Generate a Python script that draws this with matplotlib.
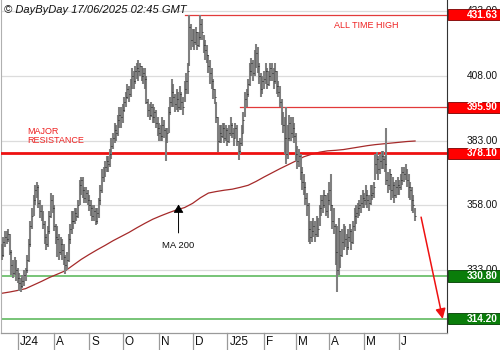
import numpy as np
import pandas as pd
import matplotlib
matplotlib.use("Agg")
import matplotlib.pyplot as plt
import matplotlib.patches as mpatches
import matplotlib.transforms as mtrans

plt.rcParams['font.family'] = ['Liberation Sans', 'DejaVu Sans']

# ---------------- data (daily bars, one row per week) ----------------
start_date = "2024-06-17"

closes = [
    339, 344, 346, 345, 347,
    340, 335, 332, 336, 333,
    330, 328, 327, 329, 331,
    333, 337, 343, 350, 354,
    360, 364, 365, 359, 356,
    355, 351, 346, 343, 348,
    354, 360, 357, 350, 346,
    345, 340, 343, 341, 338,
    335, 337, 345, 349, 352,
    352, 355, 354, 358, 366,
    368, 364, 361, 363, 360,
    358, 357, 354, 356, 352,
    355, 360, 364, 369, 371,
    373, 375, 374, 378, 381,
    384, 387, 386, 391, 393,
    392, 395, 398, 400, 403,
    401, 405, 408, 406, 410,
    411, 410, 412, 408, 409,
    407, 398, 395, 393, 396,
    392, 394, 390, 388, 386,
    385, 389, 387, 384, 386,
    394, 398, 402, 400, 397,
    399, 396, 401, 398, 396,
    403, 406, 410, 427, 422,
    424, 421, 425, 420, 423,
    428, 425, 420, 418, 416,
    412, 409, 406, 403, 400,
    392, 383, 386, 385, 388,
    384, 387, 383, 386, 389,
    386, 384, 388, 383, 379,
    382, 386, 391, 399, 401,
    405, 410, 413, 409, 415,
    417, 412, 408, 403, 406,
    407, 410, 405, 408, 411,
    409, 406, 410, 404, 402,
    398, 392, 389, 384, 378,
    384, 390, 386, 388, 385,
    378, 375, 377, 371, 367,
    365, 361, 358, 349, 346,
    348, 350, 347, 352, 349,
    357, 360, 358, 362, 356,
    360, 364, 358, 352, 350,
    340, 333, 348, 339, 344,
    347, 345, 342, 346, 348,
    344, 350, 354, 355, 357,
    358, 359, 361, 360, 362,
    360, 359, 362, 363, 365,
    374, 376, 372, 375, 377,
    376, 374, 368, 366, 370,
    364, 366, 362, 365, 366,
    365, 368, 371, 370, 372,
    368, 365, 364, 360, 358,
    354,
]

highs = [
    343, 346, 348, 348, 349,
    347, 341, 337, 338, 337,
    334, 332, 330, 331, 333,
    334, 339, 345, 352, 357,
    362, 366, 367, 366, 360,
    358, 356, 352, 347, 350,
    356, 363, 362, 358, 351,
    350, 347, 346, 345, 343,
    339, 340, 347, 351, 356,
    356, 357, 357, 360, 368,
    369, 369, 365, 365, 364,
    362, 360, 358, 358, 357,
    357, 361, 366, 372, 373,
    375, 377, 377, 380, 384,
    386, 390, 389, 393, 396,
    396, 397, 400, 402, 405,
    404, 407, 411, 410, 412,
    413, 414, 413, 412, 411,
    411, 408, 399, 397, 398,
    397, 396, 395, 392, 390,
    389, 392, 391, 388, 388,
    396, 400, 407, 405, 401,
    403, 402, 404, 402, 400,
    406, 409, 413, 431.63, 428,
    426, 426, 427, 425, 425,
    431.5, 430, 424, 422, 420,
    416, 414, 411, 407, 403,
    398, 392, 389, 389, 390,
    390, 389, 388, 389, 392,
    390, 388, 390, 389, 383,
    384, 389, 394, 402, 403,
    407, 413, 415, 414, 418,
    420.5, 419, 413, 409, 408,
    410, 413, 411, 410, 413,
    413, 411, 413, 410, 406,
    404, 399, 394, 392, 396,
    389, 393, 392, 392, 390,
    386, 381, 380, 378, 373,
    370, 367, 363, 359, 352,
    352, 353, 352, 354, 353,
    358, 362, 362, 364, 362,
    363, 367, 370, 358, 357,
    351, 350, 353, 348, 349,
    351, 350, 347, 349, 351,
    349, 352, 357, 358, 359,
    360, 362, 364, 363, 366,
    364, 362, 366, 366, 367,
    378, 378.6, 377, 378, 379,
    379, 377, 388, 371, 372,
    370, 369, 367, 368, 369,
    368, 370, 373, 373, 374,
    372, 370, 367, 365, 362,
    357,
]

lows = [
    337, 338, 342, 343, 344,
    339, 331, 330, 331, 329,
    328, 325, 324.6, 326, 327,
    329, 332, 336, 342, 349,
    354, 358, 361, 357, 353,
    352, 349, 343, 341, 342,
    347, 353, 355, 348, 343,
    338, 337, 339, 337, 335,
    331.5, 333, 336, 343, 347,
    349, 351, 352, 353, 358,
    362, 361, 359, 359, 358,
    356, 354, 352, 352, 350.5,
    351, 353, 358, 363, 367,
    369, 371, 371, 373, 376,
    380, 382, 383, 385, 388,
    388, 390, 394, 396, 399,
    398, 400, 403, 403, 405,
    407, 406, 408, 406, 405,
    403, 397, 392, 391, 392,
    390, 390, 388, 385, 383,
    383, 383, 384, 375, 382,
    386, 393, 396, 396, 394,
    395, 394, 395, 395, 393,
    398, 401, 401, 412, 418,
    419, 418, 420, 418, 419,
    422, 422, 417, 414, 413,
    409, 405, 403, 399, 397,
    390, 378.5, 382, 382, 384,
    382, 383, 381, 382, 385,
    384, 381, 384, 381, 375.5,
    378, 381, 386, 392, 396,
    400, 404, 408, 406, 408,
    411, 409, 405, 400, 401,
    403, 405, 403, 404, 406,
    406, 403, 405, 401, 400,
    396, 389, 386, 378, 374,
    376, 383, 383, 384, 382,
    375, 372, 373, 368, 364,
    362, 358, 354, 344, 343,
    344, 346, 344, 346, 346,
    350, 354, 355, 357, 354,
    353, 358, 356, 349, 347,
    335, 324.6, 331, 334, 338,
    341, 342, 339, 341, 344,
    341, 343, 348, 351, 353,
    354, 355, 357, 357, 358,
    357, 356, 358, 360, 361,
    368, 370, 368, 370, 372,
    372, 371, 366, 363, 364,
    360, 361, 359, 361, 362,
    362, 364, 366, 367, 368,
    365, 361, 360, 356, 355,
    352,
]

# 200-day moving average, read at the start of each week (bar index = 5*k)
ma200 = [
    324.1, 324.6, 325.2, 325.9, 327.3, 328.7, 330.2, 331.5, 332.8, 335.0,
    337.2, 339.1, 340.9, 342.6, 344.4, 346.0, 347.6, 349.4, 351.1, 352.7,
    354.0, 355.2, 356.3, 357.2, 358.8, 361.0, 362.8, 363.4, 363.9, 364.3,
    365.0, 365.8, 367.3, 369.0, 370.6, 372.2, 373.7, 375.2, 376.8, 377.8,
    378.6, 379.1, 379.3, 379.6, 380.1, 380.6, 381.1, 381.5, 381.8, 382.1,
    382.4, 382.7, 382.9,
]

month_labels = ["J24", "A", "S", "O", "N", "D", "J25", "F", "M", "A", "M", "J"]
grid_levels = [333, 358, 383, 408, 433]

ath_level = 431.63
res_level = 395.90
major_res = 378.10
sup1 = 330.80
sup2 = 314.20

# ---------------- figure ----------------
n = len(closes)
dates = pd.bdate_range(start_date, periods=n)
idx = np.arange(n)

fig = plt.figure(figsize=(5.0, 3.5), dpi=100)
ax = fig.add_axes([0.002, 0.0486, 0.892, 0.9514])

ax.set_xlim(-0.5, 280.1)
ax.set_ylim(308.77, 437.34)

# grid
for g in grid_levels:
    ax.axhline(g, color="#dcdcdc", lw=0.9, zorder=0)

# support / resistance lines
ax.axhline(sup1, color="#6cbf6c", lw=1.3, zorder=1)
ax.axhline(sup2, color="#6cbf6c", lw=1.3, zorder=1)
ax.axhline(major_res, color="#ee1111", lw=2.0, zorder=3)
ax.plot([115.5, 280.1], [ath_level, ath_level], color="#e23a3a", lw=0.9, zorder=3)
ax.plot([150, 280.1], [res_level, res_level], color="#e23a3a", lw=0.9, zorder=3)

# MA 200
ma_x = np.arange(len(ma200)) * 5
ma_x[-1] = min(ma_x[-1], n - 1)
ax.plot(ma_x, ma200, color="#a52a2a", lw=0.9, zorder=2)

# bars
ax.vlines(idx, lows, highs, color="#9c9c9c", lw=1.5, zorder=4)
ax.vlines(idx, lows, highs, color="#2a2a2a", lw=0.35, zorder=5)
ax.hlines(closes, idx, idx + 0.6, color="#111111", lw=0.6, zorder=5)

# texts
fig.text(0.008, 0.987, "\u00a9 DayByDay 17/06/2025 02:45 GMT", ha="left", va="top",
         fontsize=8, style="italic", color="#111111")
ax.text(229, 429.3, "ALL TIME HIGH", color="#ee2222", fontsize=6.5, ha="center", va="top")
ax.text(16.3, 388.2, "MAJOR\nRESISTANCE", color="#ee2222", fontsize=6.5, ha="left",
        va="top", linespacing=0.95)

# MA 200 annotation
ax.annotate("", xy=(111.2, 358.4), xytext=(111.2, 347.4),
            arrowprops=dict(arrowstyle="-|>,head_length=0.5,head_width=0.3", color="black",
                            lw=0.7, shrinkA=0, shrinkB=0))
ax.text(111.2, 342.6, "MA 200", fontsize=6.8, ha="center", va="center", color="#111111")

# red projection arrow
ax.annotate("", xy=(277.4, 314.2), xytext=(263.8, 353.5),
            arrowprops=dict(arrowstyle="-|>,head_length=0.6,head_width=0.3", color="#ee1111",
                            lw=1.1, shrinkA=0, shrinkB=0),
            annotation_clip=False)

# axes styling
for s in ["top", "bottom"]:
    ax.spines[s].set_visible(False)
ax.spines["left"].set_color("#b0b0b0")
ax.spines["left"].set_linewidth(0.8)
ax.spines["right"].set_color("#333333")
ax.spines["right"].set_linewidth(0.8)
ax.axhline(ax.get_ylim()[0], color="#9a9a9a", lw=0.9, zorder=6, clip_on=False)
ax.set_yticks([])
ax.set_xticks([])

# right-side price labels
ytr = mtrans.blended_transform_factory(ax.transAxes, ax.transData)
label_x = (497.5 - 1.0) / 446.0
for g in grid_levels:
    ax.text(label_x, g, f"{g:.2f}", transform=ytr, ha="right", va="center",
            fontsize=7.3, color="#111111", clip_on=False, zorder=1)

box_w = (500 - 447.5) / 446.0
def boxed(level, text, fc, ec):
    rect = mpatches.Rectangle((1.0 + 0.5 / 446, level - 2.15), box_w, 4.3, transform=ytr,
                              facecolor=fc, edgecolor=ec, lw=0.6, clip_on=False, zorder=10)
    ax.add_patch(rect)
    ax.text(label_x, level, text, transform=ytr, ha="right", va="center",
            fontsize=7.3, fontweight="bold", color="white", clip_on=False, zorder=11)

boxed(ath_level, "431.63", "#ff0000", "#7a0000")
boxed(res_level, "395.90", "#ff0000", "#7a0000")
boxed(major_res, "378.10", "#ff0000", "#7a0000")
boxed(sup1, "330.80", "#0a7d0a", "#003d00")
boxed(sup2, "314.20", "#0a7d0a", "#003d00")

# month separators and labels
xtr = mtrans.blended_transform_factory(ax.transData, ax.transAxes)
months = pd.Series(idx, index=dates)
first_idx = months.groupby([dates.year, dates.month]).first().values
first_idx = [i for i in first_idx if i > 0]
for lab, i in zip(month_labels, first_idx):
    ax.plot([i, i], [0, -0.052], transform=xtr, color="#9a9a9a", lw=0.9, clip_on=False)
    ax.text(i + 1.3, -0.027, lab, transform=xtr, ha="left", va="center", fontsize=8.5,
            color="#111111", clip_on=False)

fig.savefig("out.png", dpi=100)
